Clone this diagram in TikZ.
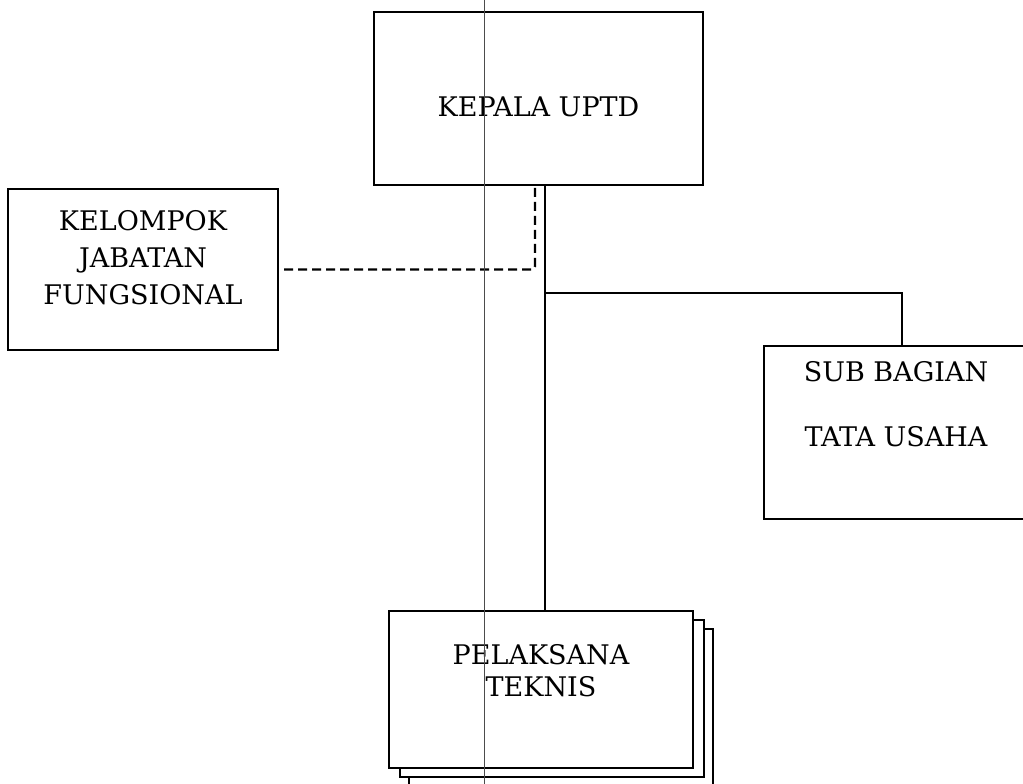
\documentclass[tikz,border=0pt]{standalone}
\usepackage{fontspec}
\setmainfont{DejaVu Serif}
\usetikzlibrary{positioning}

\begin{document}
\begin{tikzpicture}[x=1pt,y=-1pt,
		unitbox/.style={draw=black,fill=white,line width=2.2pt,inner sep=0pt},
		boxtext/.style={align=center,font=\fontsize{27}{37}\selectfont},
		link/.style={draw=black,line width=2.2pt},
		dashlink/.style={draw=black,line width=2.4pt,dash pattern=on 9pt off 5pt,rounded corners=3pt}]
		\useasboundingbox (0,0) rectangle (1023,784);
		
		% stacked sheets behind the front box
		\path[unitbox] (409,629) rectangle (713,786);
		\path[unitbox] (400,620) rectangle (704,777);
		
		\node[unitbox,minimum width=329pt,minimum height=173pt,
			label={[boxtext,yshift=-8.5pt]center:KEPALA UPTD}] (kepala) at (538.5,98.5) {};
		\node[unitbox,minimum width=270pt,minimum height=161pt,
			label={[boxtext,yshift=12pt]center:KELOMPOK\\JABATAN\\FUNGSIONAL}] (kelompok) at (143,269.5) {};
		\node[unitbox,minimum width=276pt,minimum height=173pt,
			label={[boxtext,xshift=-6pt,yshift=28pt]center:SUB BAGIAN\\[28pt]TATA USAHA}] (tatausaha) at (902,432.5) {};
		\node[unitbox,minimum width=304pt,minimum height=157pt,
			label={[boxtext,yshift=18.5pt]center:PELAKSANA\\[-5pt]TEKNIS}] (pelaksana) at (541,689.5) {};
		
		\coordinate (fork) at (545,293);
		\draw[link] ([xshift=6.5pt]kepala.south) -- ([xshift=4pt]pelaksana.north);
		\draw[link] (fork) -| (tatausaha.north);
		\draw[dashlink] ([xshift=5pt]kelompok.east) -| ([xshift=-3.5pt]kepala.south);
		
		% thin fold line
		\coordinate (foldtop) at (484,0);
		\coordinate (foldbottom) at (484,784);
		\draw[black!70,line width=0.7pt] (foldtop) -- (foldbottom);
	\end{tikzpicture}
\end{document}
